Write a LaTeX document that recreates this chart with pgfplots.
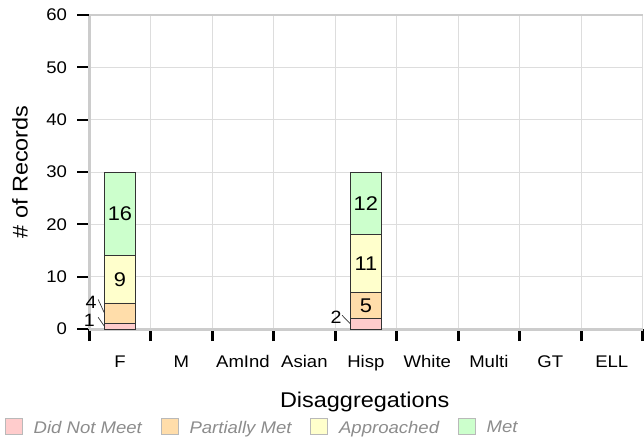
\documentclass[border=0pt]{standalone}
\usepackage{fontspec}
\setmainfont{Liberation Sans}[FakeStretch=1.1]
\usepackage{pgfplots}
\pgfplotsset{compat=1.18}
\definecolor{dnm}{HTML}{FFCCCC}
\definecolor{pm}{HTML}{FFDDAA}
\definecolor{ap}{HTML}{FFFFCC}
\definecolor{met}{HTML}{CCFFCC}
\definecolor{axgray}{HTML}{CCCCCC}
\definecolor{grd}{HTML}{DDDDDD}
\definecolor{leggray}{HTML}{8C8C8C}
\begin{document}
\begin{tikzpicture}
\begin{axis}[
  at={(90pt,112pt)}, anchor=south west,
  scale only axis, width=558pt, height=317pt,
  xmin=-0.5, xmax=8.5, ymin=0, ymax=60,
  ybar stacked, bar width=0.5,
  xtick={-0.5,0.5,1.5,2.5,3.5,4.5,5.5,6.5,7.5,8.5},
  x tick label as interval,
  xticklabels={F,M,AmInd,Asian,Hisp,White,Multi,GT,ELL},
  ytick={0,10,20,30,40,50,60},
  extra y ticks={60}, extra y tick labels={},
  extra y tick style={grid style={draw=axgray, line width=2pt}},
  axis x line*=bottom, axis y line*=left,
  axis line style={-, draw=axgray, line width=3pt},
  xmajorgrids=true, ymajorgrids=true,
  grid style={draw=grd, line width=1pt},
  tick align=outside,
  major tick length=12pt,
  xtick style={draw=black, line width=3pt},
  ytick style={draw=black, line width=2pt},
  /pgf/number format/assume math mode=true,
  tick label style={font=\fontsize{17}{20}\selectfont},
  xticklabel style={yshift=-11pt},
  yticklabel style={xshift=-7pt},
  xlabel={Disaggregations},
  ylabel={\# of Records},
  label style={font=\fontsize{21.5}{25}\selectfont},
  xlabel style={at={(axis description cs:0.498,-0.25)}, anchor=base},
  ylabel style={at={(axis description cs:-0.125,0.5)}, anchor=center},
  legend columns=4,
  legend cell align=left,
  legend style={at={(axis description cs:-0.1523,-0.3420)}, anchor=south west,
    draw=none, fill=none, inner sep=0pt, outer sep=0pt, text=leggray,
    font=\fontsize{17}{20}\selectfont\itshape,
    /tikz/every odd column/.append style={column sep=9pt},
    /tikz/every even column/.append style={column sep=17pt}},
  legend image code/.code={\draw[#1,draw=gray!55,line width=1pt] (0pt,-7pt) rectangle (17pt,9pt);},
]
\addplot[fill=dnm, draw=black!80, line width=1pt] coordinates {(0,1) (4,2)};
\addplot[fill=pm, draw=black!80, line width=1pt] coordinates {(0,4) (4,5)};
\addplot[fill=ap, draw=black!80, line width=1pt] coordinates {(0,9) (4,11)};
\addplot[fill=met, draw=black!80, line width=1pt] coordinates {(0,16) (4,12)};
\legend{Did Not Meet, Partially Met, Approached, Met}
\end{axis}
\begin{axis}[
  at={(90pt,112pt)}, anchor=south west,
  scale only axis, width=558pt, height=317pt,
  xmin=-0.5, xmax=8.5, ymin=0, ymax=60,
  hide axis, clip=false,
]
\node[font=\fontsize{20}{24}\selectfont] at (axis cs:0,9.5) {9};
\node[font=\fontsize{20}{24}\selectfont] at (axis cs:0,22) {16};
\node[font=\fontsize{20}{24}\selectfont] at (axis cs:4,4.5) {5};
\node[font=\fontsize{20}{24}\selectfont] at (axis cs:4,12.5) {11};
\node[font=\fontsize{20}{24}\selectfont] at (axis cs:4,24) {12};
\node[font=\fontsize{18}{21}\selectfont, inner sep=0pt] at (axis cs:-0.47,5.05) {4};
\node[font=\fontsize{18}{21}\selectfont, inner sep=0pt] at (axis cs:-0.5,1.75) {1};
\node[font=\fontsize{18}{21}\selectfont, inner sep=0pt] at (axis cs:3.516,2.27) {2};
\draw[black!80, line width=0.7pt] (axis cs:-0.355,5.68) -- (axis cs:-0.25,3);
\draw[black!80, line width=0.7pt] (axis cs:-0.355,2.27) -- (axis cs:-0.25,0.5);
\draw[black!80, line width=0.7pt] (axis cs:3.613,2.65) -- (axis cs:3.75,1);
\end{axis}
\path[use as bounding box] (0,0) rectangle (644pt,444pt);
\end{tikzpicture}
\end{document}
